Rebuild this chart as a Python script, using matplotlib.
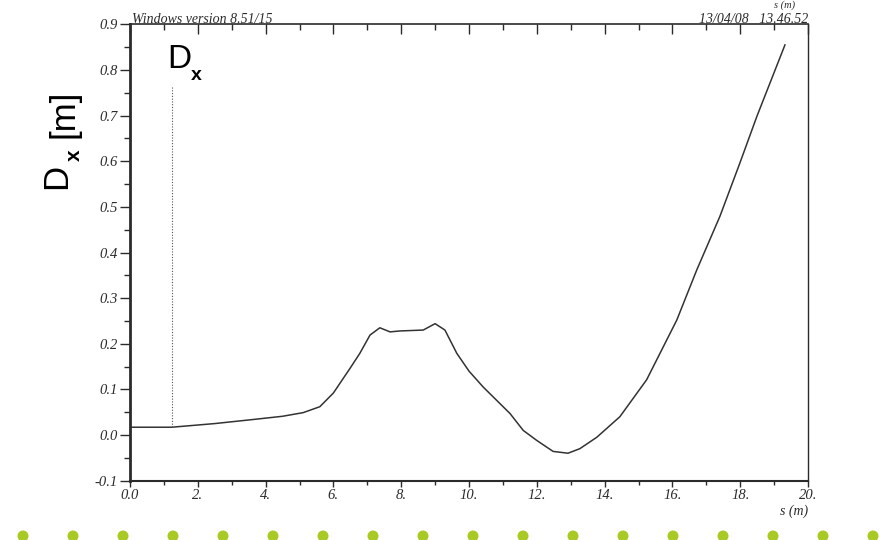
#!/usr/bin/env python3
"""
plot.py - horizontal dispersion D_x along the line, as printed by the
optics code (Windows version 8.51/15), with the slide's dot strip below.

OUTPUT:
    out.png
"""
import matplotlib as mpl
import matplotlib.pyplot as plt
from matplotlib.patches import Ellipse
from matplotlib.ticker import MultipleLocator, FixedLocator, FixedFormatter

W, H, DPI = 888, 540, 100

# dispersion function read along s
S_M = [0.0, 1.23, 2.5, 3.64, 4.5, 5.11, 5.6, 6.0, 6.19, 6.49, 6.78, 7.08,
       7.37, 7.67, 7.96, 8.65, 9.0, 9.29, 9.64, 10.0, 10.42, 11.21, 11.6,
       12.0, 12.48, 12.92, 13.27, 13.77, 14.45, 15.24, 16.13, 16.72, 17.4,
       17.99, 18.49, 19.32]
DX_M = [0.017, 0.017, 0.025, 0.034, 0.041, 0.049, 0.062, 0.092, 0.113,
        0.146, 0.179, 0.219, 0.235, 0.226, 0.228, 0.230, 0.244, 0.230,
        0.179, 0.140, 0.105, 0.047, 0.010, -0.012, -0.036, -0.040, -0.030,
        -0.005, 0.040, 0.121, 0.252, 0.362, 0.479, 0.596, 0.698, 0.855]

# marker for the start of the plotted element
MARK_S = 1.23
MARK_TOP = 0.763

X_TICKS = [0, 2, 4, 6, 8, 10, 12, 14, 16, 18, 20]
X_LABELS = ["0.0", "2.", "4.", "6.", "8.", "10.", "12.", "14.", "16.",
            "18.", "20."]
Y_TICKS = [-0.1, 0.0, 0.1, 0.2, 0.3, 0.4, 0.5, 0.6, 0.7, 0.8, 0.9]
Y_LABELS = ["-0.1", "0.0", "0.1", "0.2", "0.3", "0.4", "0.5", "0.6", "0.7",
            "0.8", "0.9"]

HEADER_L = "Windows version 8.51/15"
HEADER_R = "13/04/08   13.46.52"
N_DOTS = 18

INK = "#2b2b2b"
DOT = "#a9c924"
SERIF_IT = dict(family=["Liberation Serif", "DejaVu Serif"], style="italic")

mpl.rcParams.update({
    "font.family": ["Liberation Sans", "DejaVu Sans"],
    "axes.linewidth": 1.2,
})


def px(x, y):
    """pixel position -> figure fraction"""
    return x / W, 1 - y / H


def draw_axes(fig):
    ax = fig.add_axes([130 / W, 1 - 480.6 / H, 678 / W, 456.2 / H])
    ax.plot(S_M, DX_M, color="#333333", lw=1.1)
    ax.vlines(MARK_S, DX_M[1], MARK_TOP, colors="#555555", lw=0.8,
              linestyles=(0, (1, 1.5)))

    ax.set_xlim(0, 20)
    ax.set_ylim(-0.1, 0.9)
    ax.xaxis.set_major_locator(FixedLocator(X_TICKS))
    ax.xaxis.set_major_formatter(FixedFormatter(X_LABELS))
    ax.xaxis.set_minor_locator(MultipleLocator(1))
    ax.yaxis.set_major_locator(FixedLocator(Y_TICKS))
    ax.yaxis.set_major_formatter(FixedFormatter(Y_LABELS))
    ax.yaxis.set_minor_locator(MultipleLocator(0.05))

    ax.tick_params(axis="x", which="major", direction="out", length=4,
                   width=1, color=INK, pad=2)
    ax.tick_params(axis="x", which="minor", direction="out", length=3,
                   width=1, color=INK)
    ax.tick_params(axis="x", which="both", top=True)
    ax.tick_params(axis="y", which="major", direction="out", length=7,
                   width=1, color=INK, pad=2)
    ax.tick_params(axis="y", which="minor", direction="out", length=4,
                   width=1, color=INK)
    for lab in ax.get_xticklabels() + ax.get_yticklabels():
        lab.set_fontfamily(SERIF_IT["family"])
        lab.set_fontstyle("italic")
        lab.set_fontsize(10.5)
        lab.set_color(INK)

    # top ticks sit inside the frame
    for t in ax.xaxis.get_major_ticks():
        t.tick2line.set_marker(3)
        t.tick2line.set_markersize(7)
    for t in ax.xaxis.get_minor_ticks():
        t.tick2line.set_marker(3)
        t.tick2line.set_markersize(4)

    ax.spines["left"].set_linewidth(2.0)
    ax.spines["bottom"].set_linewidth(1.5)
    ax.spines["top"].set_linewidth(1.2)
    ax.spines["right"].set_linewidth(1.0)
    for sp in ax.spines.values():
        sp.set_color(INK)
    return ax


def draw_labels(fig):
    # header line printed on the frame
    fig.text(*px(132, 23), HEADER_L, fontsize=10, color=INK, ha="left",
             va="baseline", **SERIF_IT)
    fig.text(*px(808, 23), HEADER_R, fontsize=10, color=INK, ha="right",
             va="baseline", **SERIF_IT)
    fig.text(*px(795, 0), "s (m)", fontsize=7.5, color=INK, ha="right",
             va="top", **SERIF_IT)
    fig.text(*px(808, 511), "s (m)", fontsize=10, color=INK, ha="right",
             va="center", **SERIF_IT)

    # curve label inside the plot
    fig.text(*px(167, 68), "D", fontsize=24, ha="left", va="baseline")
    fig.text(*px(191, 80), "x", fontsize=14, fontweight="bold", ha="left",
             va="baseline")

    # vertical axis title
    fig.text(*px(73, 189), "D", fontsize=25, rotation=90, ha="right",
             va="bottom")
    fig.text(*px(84, 161), "x", fontsize=15, fontweight="bold", rotation=90,
             ha="right", va="bottom")
    fig.text(*px(64, 114), "[m]", fontsize=25, rotation=90, ha="center",
             va="center")


def draw_dots(fig):
    for i in range(N_DOTS):
        fig.patches.append(Ellipse(
            px(23 + 50 * i, 536), 11 / W, 11 / H, transform=fig.transFigure,
            facecolor=DOT, edgecolor="none"))


def main():
    fig = plt.figure(figsize=(W / DPI, H / DPI), dpi=DPI)
    fig.patch.set_facecolor("white")
    draw_axes(fig)
    draw_labels(fig)
    draw_dots(fig)
    fig.savefig("out.png", dpi=DPI)
    plt.close(fig)


if __name__ == "__main__":
    main()
